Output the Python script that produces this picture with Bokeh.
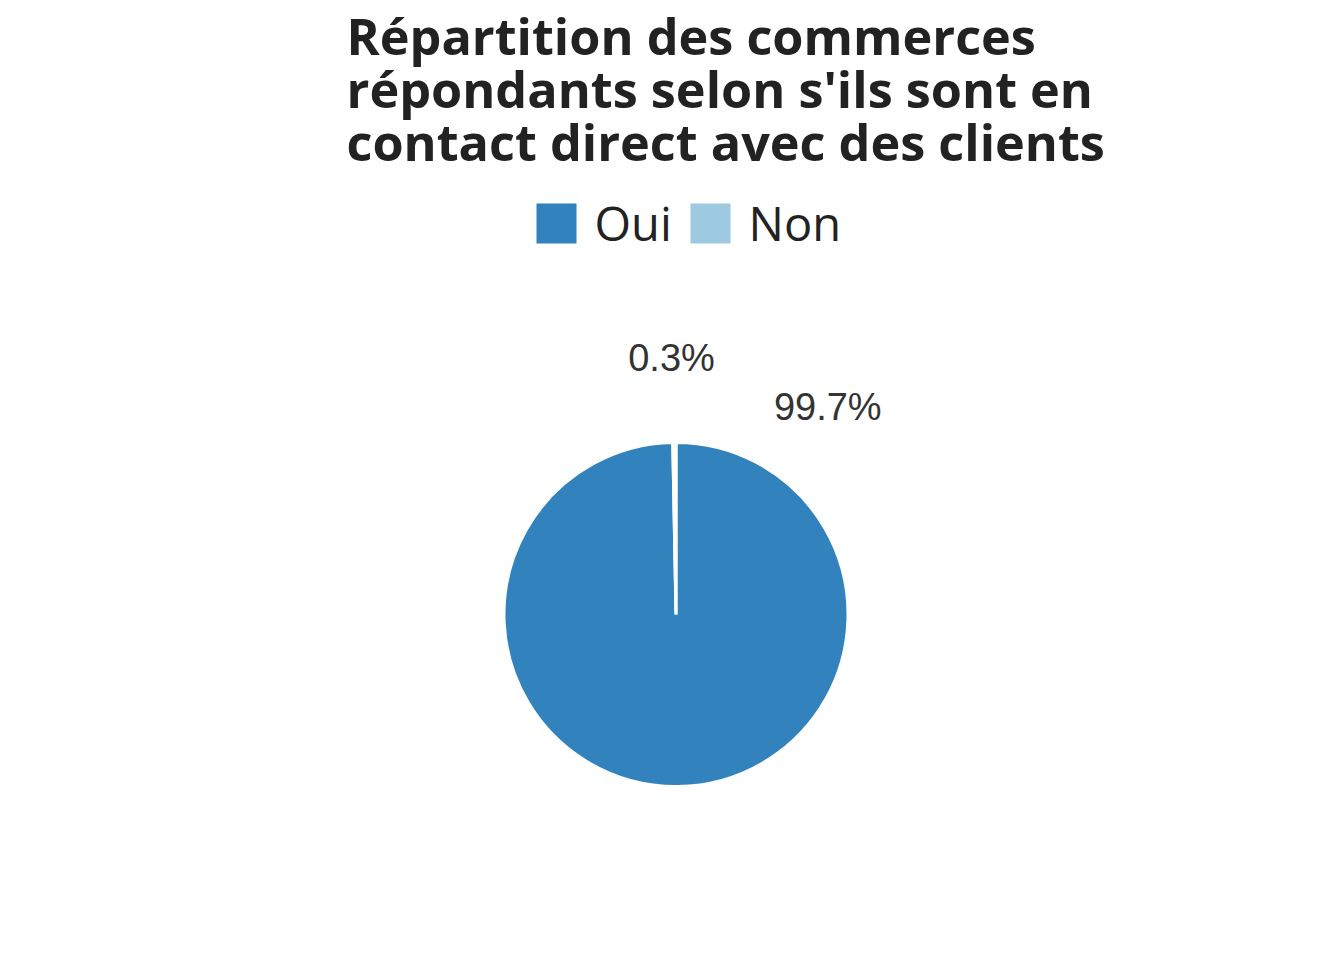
import numpy as np
from bokeh.plotting import figure
from bokeh.models import ColumnDataSource, Range1d
from bokeh.core.properties import value
from bokeh.embed import file_html
from bokeh.resources import INLINE

title_lines = ["Répartition des commerces", "répondants selon s'ils sont en", "contact direct avec des clients"]
categories = ["Oui", "Non"]
shares = [99.7, 0.3]
colors = ["#3182bd", "#9ecae1"]
label_texts = ["99.7%", "0.3%"]

W, H = 1344, 960
p = figure(width=W, height=H, output_backend="svg", toolbar_location=None,
           x_range=Range1d(0, W), y_range=Range1d(0, H), min_border=0)
p.axis.visible = False
p.grid.visible = False
p.outline_line_color = None
p.background_fill_color = "white"

cx, cy, r = 675.5, H - 614, 172
vals = np.array(shares, dtype=float)
frac = vals / vals.sum()
cum = np.concatenate([[0], np.cumsum(frac)])
start = np.pi / 2 - cum[:-1] * 2 * np.pi
end = np.pi / 2 - cum[1:] * 2 * np.pi
src = ColumnDataSource(dict(start=start, end=end, color=colors, cat=categories))
p.wedge(x=cx, y=cy, radius=r, start_angle="start", end_angle="end", direction="clock",
        fill_color="color", line_color="white", line_width=3, source=src)

# labels (Oui label shifted to avoid overlap)
lab_r = 257
mid = (start + end) / 2
mid_adj = mid.copy()
mid_adj[0] = np.pi / 2 - np.deg2rad(36.2)
mid_adj[1] = np.pi / 2 + np.deg2rad(1.0)
lx = cx + lab_r * np.cos(mid_adj)
ly = cy + lab_r * np.sin(mid_adj)
p.text(x=lx, y=ly, text=label_texts, text_align="center", text_baseline="middle",
       text_font=value("Liberation Sans"), text_font_size="38px", text_color="#333333")

# title
ty = [H - 35, H - 88, H - 141]
p.text(x=[346] * 3, y=ty, text=title_lines, text_align="left", text_baseline="middle",
       text_font=value("Open Sans"), text_font_style="bold", text_font_size="50.4px",
       text_color="#222222", text_line_height=1.0)

# legend
leg_x = [556, 710]
leg_y = H - 223
p.rect(x=leg_x, y=[leg_y] * 2, width=40, height=40, fill_color=colors, line_color=None)
p.text(x=[x + 38 for x in leg_x], y=[leg_y + 1] * 2, text=categories, text_align="left",
       text_baseline="middle", text_font=value("Open Sans"), text_font_size="47px",
       text_color="#222222")

open("out.html", "w").write(file_html(p, INLINE))
